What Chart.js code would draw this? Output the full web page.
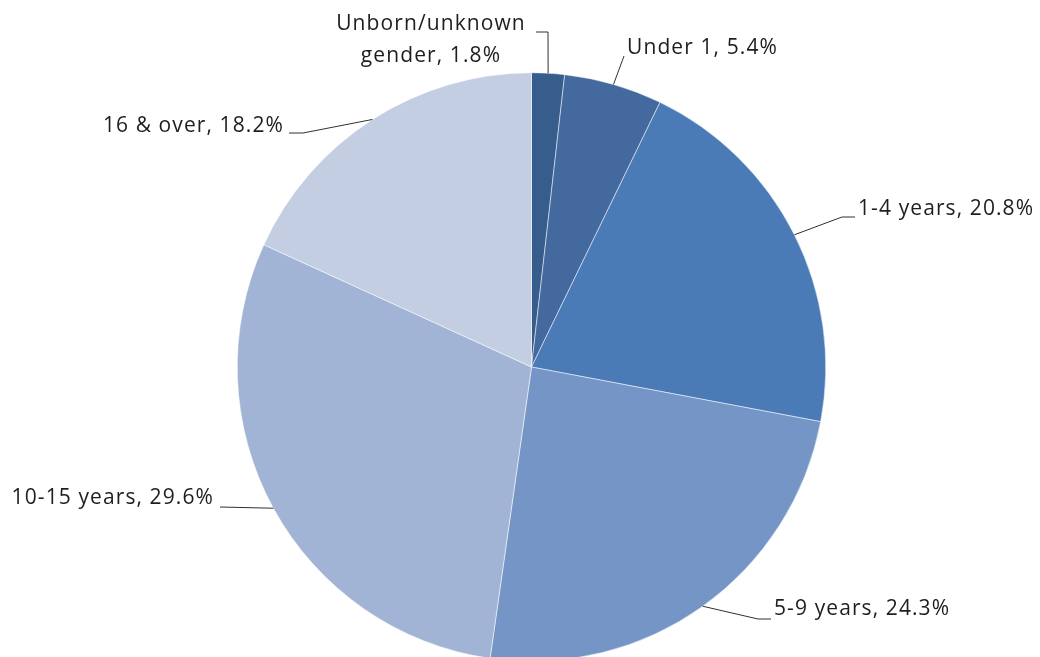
<!DOCTYPE html>
<html>
<head>
<meta charset="utf-8">
<script src="https://cdn.jsdelivr.net/npm/chart.js@4.4.0/dist/chart.umd.min.js"></script>
<style>
html,body{margin:0;padding:0;background:#fff;overflow:hidden;}
#wrap{position:relative;width:1040px;height:662px;}
</style>
</head>
<body>
<div id="wrap"><canvas id="c"></canvas></div>
<script>
const categories = ["Unborn/unknown gender", "Under 1", "1-4 years", "5-9 years", "10-15 years", "16 & over"];
const labelLines = [["Unborn/unknown", "gender, 1.8%"], ["Under 1, 5.4%"], ["1-4 years, 20.8%"], ["5-9 years, 24.3%"], ["10-15 years, 29.6%"], ["16 & over, 18.2%"]];
const values = [1.8, 5.4, 20.8, 24.3, 29.6, 18.2];
const colors = ["#375d8d", "#43699f", "#4a7bb6", "#7495c6", "#a2b4d6", "#c3cee3"];

// label layout: leader path points after the arc point, then text anchor
const labelLayout = [
  {path: [[548, 32], [536, 32]], x: 431, y: [24, 56], align: "center"},
  {path: [[624, 56]], x: 627, y: [48], align: "left"},
  {path: [[842, 217], [855, 217]], x: 858, y: [209], align: "left"},
  {path: [[758, 619], [771, 619]], x: 774, y: [609], align: "left"},
  {path: [[220, 507]], x: 214, y: [498], align: "right"},
  {path: [[303, 133], [289, 133]], x: 284, y: [126], align: "right"}
];

const FONT = '21px "Open Sans"';

const leaderPlugin = {
  id: 'leaders',
  afterDatasetsDraw(chart) {
    const ctx = chart.ctx;
    const meta = chart.getDatasetMeta(0);
    ctx.save();
    meta.data.forEach((arc, i) => {
      const p = arc.getProps(['x', 'y', 'startAngle', 'endAngle', 'outerRadius'], true);
      const mid = (p.startAngle + p.endAngle) / 2;
      const sx = p.x + Math.cos(mid) * p.outerRadius;
      const sy = p.y + Math.sin(mid) * p.outerRadius;
      const L = labelLayout[i];
      ctx.beginPath();
      ctx.moveTo(sx, sy);
      L.path.forEach(pt => ctx.lineTo(pt[0], pt[1]));
      ctx.strokeStyle = '#303030';
      ctx.lineWidth = 1;
      ctx.stroke();
      ctx.font = FONT;
      ctx.letterSpacing = '1.1px';
      ctx.fillStyle = '#1e1e1e';
      ctx.textAlign = L.align;
      ctx.textBaseline = 'middle';
      labelLines[i].forEach((t, j) => ctx.fillText(t, L.x, L.y[j]));
    });
    ctx.restore();
  }
};

new Chart(document.getElementById('c'), {
  type: 'pie',
  data: {
    labels: categories,
    datasets: [{
      data: values,
      backgroundColor: colors,
      borderColor: '#ffffff',
      borderWidth: 0.5
    }]
  },
  options: {
    responsive: true,
    maintainAspectRatio: false,
    animation: false,
    layout: {padding: {top: 72, bottom: 0, left: 237, right: 214}},
    plugins: {legend: {display: false}, tooltip: {enabled: false}}
  },
  plugins: [leaderPlugin]
});
</script>
</body>
</html>
